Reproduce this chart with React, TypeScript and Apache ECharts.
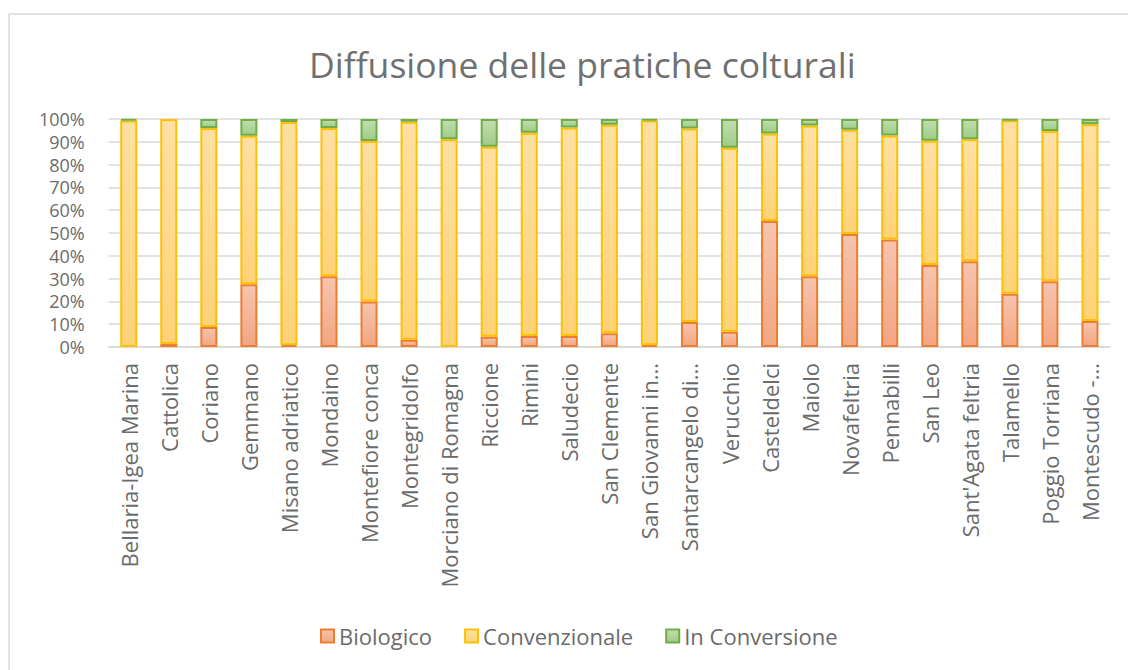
import React, { useEffect, useRef } from "react";
import * as echarts from "echarts";

const categories = [
  "Bellaria-Igea Marina", "Cattolica", "Coriano", "Gemmano", "Misano adriatico",
  "Mondaino", "Montefiore conca", "Montegridolfo", "Morciano di Romagna", "Riccione",
  "Rimini", "Saludecio", "San Clemente", "San Giovanni in...", "Santarcangelo di...",
  "Verucchio", "Casteldelci", "Maiolo", "Novafeltria", "Pennabilli", "San Leo",
  "Sant'Agata feltria", "Talamello", "Poggio Torriana", "Montescudo -...",
];
const biologico = [0, 1.3, 8.8, 27.5, 0.8, 31, 20, 3.2, 0, 4.5, 4.8, 4.8, 6, 0.8, 11, 6.7, 55.3, 31, 49.6, 47.1, 36, 37.6, 23.4, 28.8, 11.4];
const convenzionale = [99.3, 98.7, 87.2, 65.2, 97.9, 65, 70.3, 95.6, 91.1, 83.3, 89.2, 91.5, 91.5, 98.5, 84.8, 80.7, 38.3, 66.1, 45.7, 45.7, 54.5, 53.5, 76, 65.9, 86.3];
const inConversione = [0.7, 0, 4, 7.3, 1.3, 4, 9.7, 1.2, 8.9, 12.2, 6, 3.7, 2.5, 0.7, 4.2, 12.6, 6.4, 2.9, 4.7, 7.2, 9.5, 8.9, 0.6, 5.3, 2.3];
const yTicks = [0, 10, 20, 30, 40, 50, 60, 70, 80, 90, 100];

const FONT = "'Open Sans', 'Noto Sans', sans-serif";
const TXT = "#6b6b6b";

function grad(top: string, bottom: string) {
  return new echarts.graphic.LinearGradient(0, 0, 0, 1, [
    { offset: 0, color: top },
    { offset: 1, color: bottom },
  ]);
}

export default function App() {
  const ref = useRef<HTMLDivElement>(null);
  useEffect(() => {
    if (!ref.current) return;
    const chart = echarts.init(ref.current, undefined, { renderer: "svg" });
    const mk = (name: string, data: number[], top: string, bottom: string, border: string) => ({
      name,
      type: "bar",
      stack: "total",
      data: data.map((v) => (v === 0 ? null : v)),
      barWidth: 17,
      itemStyle: { color: grad(top, bottom), borderColor: border, borderWidth: 2 },
    });
    chart.setOption({
      animation: false,
      backgroundColor: "#ffffff",
      title: {
        text: "Diffusione delle pratiche colturali",
        left: 304,
        top: 41,
        textStyle: { fontFamily: FONT, fontSize: 35.5, fontWeight: "normal", color: "#707070" },
      },
      graphic: [
        {
          type: "rect",
          shape: { x: 9, y: 14, width: 1140, height: 700 },
          style: { fill: "none", stroke: "#d9d9d9", lineWidth: 1.5 },
          silent: true,
        },
      ],
      legend: {
        data: ["Biologico", "Convenzionale", "In Conversione"],
        left: 315,
        top: 620,
        icon: "rect",
        itemWidth: 13,
        itemHeight: 13,
        itemGap: 32,
        textStyle: { fontFamily: FONT, fontSize: 22, color: TXT },
      },
      grid: { left: 108.7, right: 18, top: 119, bottom: 323, containLabel: false },
      xAxis: {
        type: "category",
        data: categories,
        axisTick: { show: false },
        axisLine: { lineStyle: { color: "#d9d9d9", width: 1.5 } },
        axisLabel: {
          rotate: 90,
          interval: 0,
          margin: 16,
          fontFamily: FONT,
          fontSize: 22,
          lineHeight: 22,
          color: TXT,
        },
      },
      yAxis: {
        type: "value",
        min: yTicks[0],
        max: yTicks[yTicks.length - 1],
        interval: 10,
        axisLine: { show: false },
        axisTick: { show: false },
        splitLine: { lineStyle: { color: "#d9d9d9", width: 1.5 } },
        axisLabel: {
          formatter: "{value}%",
          margin: 24,
          fontFamily: FONT,
          fontSize: 18,
          lineHeight: 18,
          color: TXT,
        },
      },
      series: [
        mk("Biologico", biologico, "#f6c4ae", "#f2a683", "#ed7d31"),
        mk("Convenzionale", convenzionale, "#ffe0a3", "#ffd278", "#ffc000"),
        mk("In Conversione", inConversione, "#c2ddb0", "#a0cc88", "#70ad47"),
      ],
    });
    return () => chart.dispose();
  }, []);
  return (
    <div
      ref={ref}
      style={{ position: "fixed", left: 0, top: 0, width: 1128, height: 670 }}
    />
  );
}
